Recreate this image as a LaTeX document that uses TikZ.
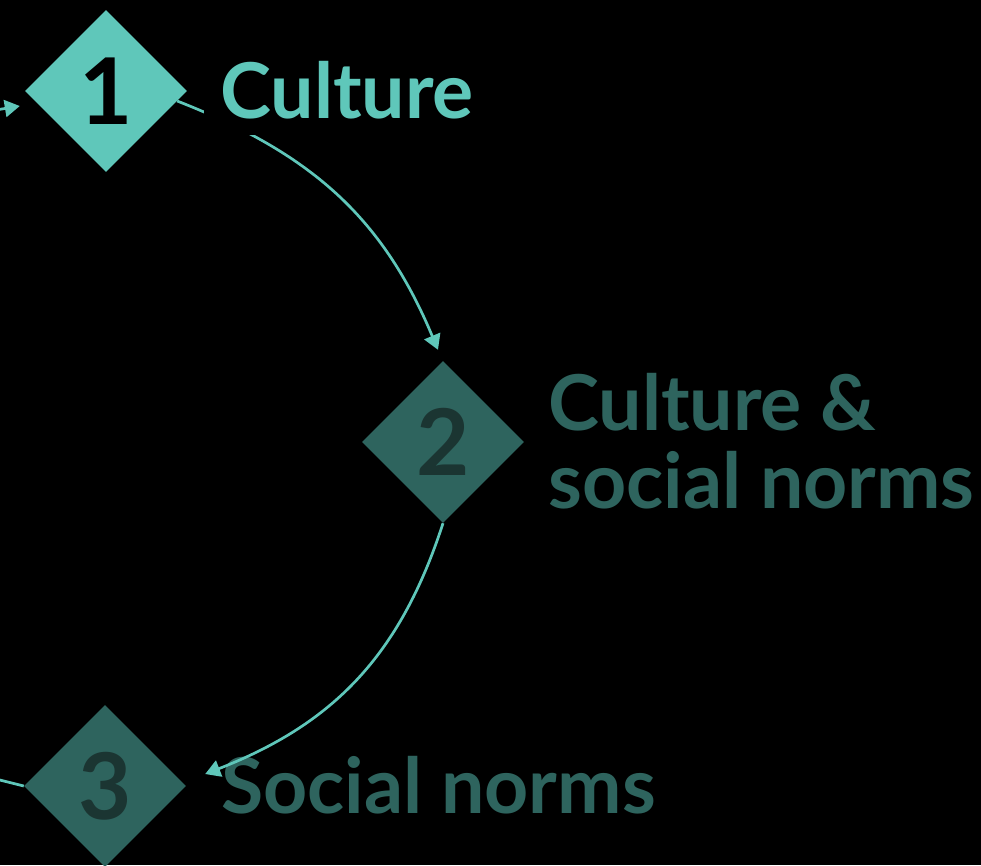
\documentclass[tikz,border=0pt]{standalone}
\usepackage{fontspec}
\setmainfont{Lato}
\usetikzlibrary{shapes.geometric,arrows.meta,calc}
\definecolor{teal1}{HTML}{5FC7BA}
\definecolor{dteal}{HTML}{2E645E}
\definecolor{dnum}{HTML}{1B3532}
\tikzset{
  stepdia/.style={diamond,inner sep=0pt,minimum width=162pt,minimum height=162pt,
     font=\fontsize{92}{92}\selectfont\bfseries},
  lbl/.style={inner sep=0pt,anchor=base west,font=\fontsize{77}{78}\selectfont\bfseries,align=left},
  conn/.style={draw=teal1,line width=2.7pt},
  tip/.style={-{Triangle[length=15pt,width=17pt]}}
}
\begin{document}
\begin{tikzpicture}[x=1pt,y=-1pt]
\fill[black] (0,0) rectangle (981,865);
\useasboundingbox (0,0) rectangle (981,865);
\clip (0,0) rectangle (981,865);
% off-canvas ends
\coordinate (inl) at (-40,116);
\coordinate (outl) at (-40,770);
% diamonds positions
\path (106,91) coordinate (p1) (443,442) coordinate (p2) (105,786) coordinate (p3);
% connectors behind diamonds
\node[stepdia] (d1) at (p1) {};
\node[stepdia] (d2) at (p2) {};
\node[stepdia] (d3) at (p3) {};
\draw[conn] (d3.west) -- (outl);
\draw[conn,tip] (inl) -- ($(d1.west)+(-5,15)$);
\draw[conn,tip] ($(d1.east)+(-10,10)$) .. controls (310,153) and (382,216) .. ($(d2.north)+(-5,-11)$);
% diamonds
\node[stepdia,fill=teal1,text=black] at (p1) {1};
\node[stepdia,fill=dteal,text=dnum] at (p2) {2};
\node[stepdia,fill=dteal,text=dnum] at (p3) {3};
% labels
\node[lbl,text=teal1,fill=black,inner sep=16pt] (l1) at (204,118) {Culture};
\node[lbl,text=dteal] (l2) at (548,508) {Culture \&\\social norms};
\node[lbl,text=dteal] (l3) at (221,813) {Social norms};
\draw[conn,tip] (d2.south) .. controls (400,656) and (333,724) .. ($(d3.east)+(19,-12)$);
\end{tikzpicture}
\end{document}
